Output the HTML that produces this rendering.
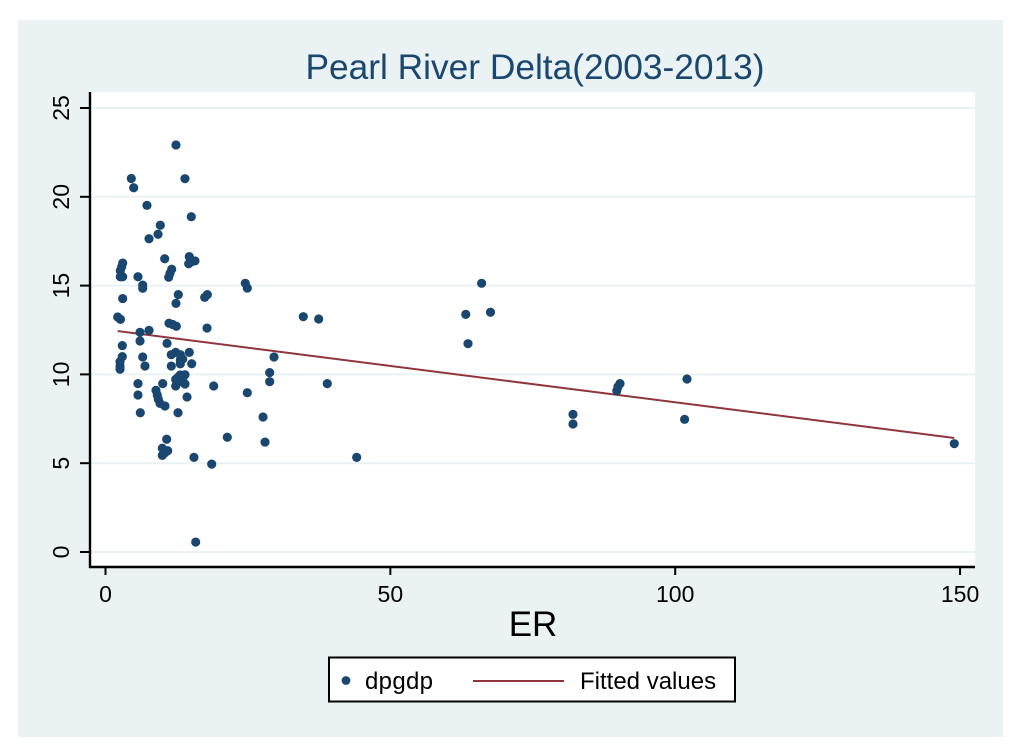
<!DOCTYPE html>
<html lang="en">
<head>
<meta charset="utf-8">
<title>Pearl River Delta(2003-2013)</title>
<style>
html,body{margin:0;padding:0;background:#fff;}
svg{display:block;font-family:"Liberation Sans",sans-serif;}
</style>
</head>
<body>
<svg id="chart" xmlns="http://www.w3.org/2000/svg" width="1024" height="755" viewBox="0 0 1024 755">
  <rect x="18" y="20" width="985" height="717" fill="#eaf2f3"/>
  <rect x="91" y="92" width="884" height="475" fill="#ffffff"/>
  <text x="535" y="79" font-size="35.3" fill="#1a476f" text-anchor="middle">Pearl River Delta(2003-2013)</text>
  <g id="grid"></g>
  <g id="fit"></g>
  <g id="points"></g>
  <g id="axes"></g>
  <text x="533" y="636" font-size="35" fill="#000" text-anchor="middle">ER</text>
  <g>
    <rect x="329" y="657.5" width="406" height="44" fill="#fff" stroke="#000" stroke-width="2"/>
    <circle cx="346" cy="680.5" r="4.4" fill="#1a476f"/>
    <text x="365" y="689" font-size="24" fill="#000" textLength="68">dpgdp</text>
    <line x1="473" x2="564" y1="681" y2="681" stroke="#90353b" stroke-width="2"/>
    <text x="580" y="689" font-size="24" fill="#000">Fitted values</text>
  </g>
</svg>
<script>
const xTicks = [0, 50, 100, 150];
const yTicks = [0, 5, 10, 15, 20, 25];
const erValues = [12.37,4.53,4.95,13.95,7.28,15.06,9.62,9.22,7.64,10.39,14.71,15.71,15.13,14.60,3.02,2.84,2.60,2.60,3.02,5.70,6.53,6.53,11.62,11.32,11.09,24.54,24.89,12.78,17.87,17.41,3.02,12.37,2.14,2.63,11.15,11.80,12.43,17.82,7.64,6.06,6.06,2.95,10.80,2.95,2.55,2.55,2.55,6.53,6.93,11.55,12.32,13.13,14.71,13.13,13.55,13.13,15.13,11.55,13.95,13.13,12.73,13.55,12.32,13.13,13.95,12.32,5.70,5.70,10.04,8.86,9.09,9.27,9.57,10.44,14.31,18.99,6.11,12.73,24.89,28.82,28.82,29.58,38.93,27.65,21.38,28.00,10.74,9.97,10.92,10.44,9.97,15.53,18.64,44.09,15.83,34.72,37.42,66.02,63.24,67.58,63.63,82.06,82.06,90.31,89.96,89.75,102.07,101.65,148.99];
const dpgdpValues = [22.92,21.03,20.51,21.02,19.52,18.88,18.40,17.89,17.64,16.51,16.63,16.39,16.35,16.23,16.27,16.06,15.84,15.50,15.50,15.50,15.03,14.85,15.92,15.69,15.47,15.13,14.86,14.49,14.49,14.34,14.27,14.00,13.23,13.10,12.88,12.81,12.71,12.61,12.48,12.37,11.88,11.62,11.75,11.00,10.72,10.47,10.29,10.98,10.47,11.11,11.24,11.11,11.24,10.81,10.87,10.59,10.60,10.47,9.98,9.97,9.84,9.72,9.72,9.59,9.46,9.35,9.48,8.84,9.48,9.10,8.84,8.60,8.37,8.22,8.73,9.35,7.84,7.84,8.97,10.10,9.59,10.98,9.48,7.60,6.46,6.19,6.35,5.84,5.70,5.59,5.44,5.33,4.95,5.33,0.56,13.25,13.12,15.13,13.38,13.50,11.73,7.75,7.21,9.48,9.31,9.08,9.74,7.47,6.10];
const fitX = [2.14, 148.99];
const fitY = [12.44, 6.42];

const NS = 'http://www.w3.org/2000/svg';
function sx(v) { return 105.5 + v * 5.697; }
function sy(v) { return 552 - v * 17.76; }
function mk(parent, tag, attrs) {
  const el = document.createElementNS(NS, tag);
  for (const k in attrs) el.setAttribute(k, attrs[k]);
  parent.appendChild(el);
  return el;
}
const grid = document.getElementById('grid');
const axes = document.getElementById('axes');
const fit = document.getElementById('fit');
const points = document.getElementById('points');

yTicks.forEach(function (t) {
  const g = mk(grid, 'line', {x1: 91, x2: 975, y1: sy(t), y2: sy(t), stroke: '#eaf2f3', 'stroke-width': 2});
  
  
  const tick = mk(axes, 'line', {x1: 80, x2: 90, y1: sy(t), y2: sy(t), stroke: '#000', 'stroke-width': 2});
  
  
  const lab = mk(axes, 'text', {'font-size': 23, fill: '#000', 'text-anchor': 'middle', transform: 'translate(69 ' + sy(t) + ') rotate(-90)'});
  lab.textContent = String(t);
  
  
});
xTicks.forEach(function (t) {
  const tick = mk(axes, 'line', {x1: sx(t), x2: sx(t), y1: 567, y2: 575, stroke: '#000', 'stroke-width': 2});
  
  
  const lab = mk(axes, 'text', {x: sx(t), y: 602, 'font-size': 23, fill: '#000', 'text-anchor': 'middle'});
  lab.textContent = String(t);
  
  
});
const yAxis = mk(axes, 'line', {x1: 90, x2: 90, y1: 92, y2: 568, stroke: '#000', 'stroke-width': 2.4});


const xAxis = mk(axes, 'line', {x1: 89, x2: 975, y1: 567, y2: 567, stroke: '#000', 'stroke-width': 2.4});



const fitLine = mk(fit, 'line', {x1: sx(fitX[0]), y1: sy(fitY[0]), x2: sx(fitX[1]), y2: sy(fitY[1]), stroke: '#90353b', 'stroke-width': 2});



erValues.forEach(function (x, i) {
  const c = mk(points, 'circle', {cx: sx(x), cy: sy(dpgdpValues[i]), r: 4.6, fill: '#1a476f'});
  
  
});
</script>
</body>
</html>
